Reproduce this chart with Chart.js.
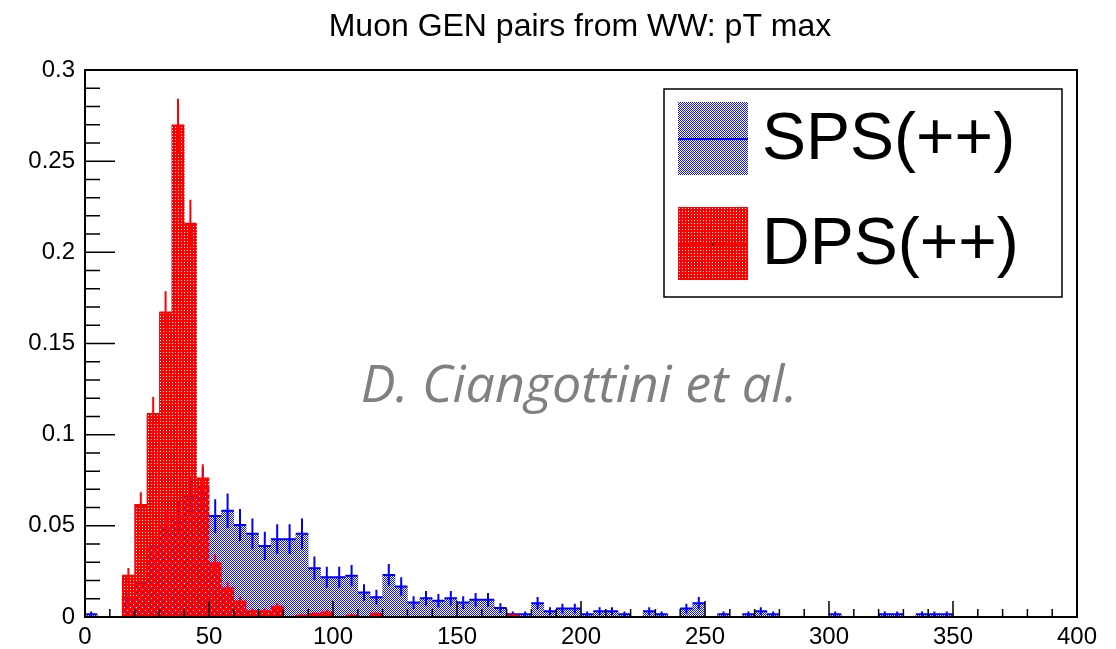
<!DOCTYPE html>
<html><head><meta charset="utf-8">
<script src="https://cdn.jsdelivr.net/npm/chart.js@4.4.1/dist/chart.umd.min.js"></script>
<style>html,body{margin:0;padding:0;background:#fff;}#wrap{width:1116px;height:649px;position:relative;}</style>
</head><body><div id="wrap"><canvas id="c" width="1116" height="649"></canvas></div>
<script>
// ---------------- data ----------------
const chartTitle = "Muon GEN pairs from WW: pT max";
const watermarkText = "D. Ciangottini et al.";
const binWidth = 5;
const binLow = [0,5,10,15,20,25,30,35,40,45,50,55,60,65,70,75,80,85,90,95,
  100,105,110,115,120,125,130,135,140,145,150,155,160,165,170,175,180,185,190,195,
  200,205,210,215,220,225,230,235,240,245,250,255,260,265,270,275,280,285,290,295,
  300,305,310,315,320,325,330,335,340,345,350,355,360,365,370,375,380,385,390,395];
const spsLabel = "SPS(++)";
const spsValues = [0.0015,0,0,0.0098,0.0186,0.0386,0.0505,0.054,0.066,0.0715,
  0.0554,0.0583,0.0505,0.0456,0.039,0.0427,0.0427,0.0456,0.0268,0.0218,
  0.0218,0.0226,0.0134,0.0109,0.0231,0.0167,0.0079,0.0103,0.0089,0.0103,
  0.0079,0.0094,0.0094,0.0049,0.0015,0.0015,0.0076,0.0031,0.0046,0.0046,
  0.0015,0.0031,0.0031,0.0015,0,0.0031,0.0015,0,0.0046,0.0076,
  0,0.0015,0,0.0015,0.0031,0.0015,0,0,0,0,
  0.0015,0,0,0,0.0015,0.0015,0,0.0015,0.0015,0.0015,
  0,0,0,0,0,0,0,0,0,0];
const spsErrors = [0.0015,0,0,0.0039,0.0054,0.0077,0.0088,0.0091,0.0101,0.0105,
  0.0092,0.0095,0.0088,0.0084,0.0078,0.0081,0.0081,0.0084,0.0064,0.0058,
  0.0058,0.0059,0.0045,0.0041,0.006,0.0051,0.0035,0.004,0.0037,0.004,
  0.0035,0.0038,0.0038,0.0027,0.0015,0.0015,0.0034,0.0022,0.0027,0.0027,
  0.0015,0.0022,0.0022,0.0015,0,0.0022,0.0015,0,0.0027,0.0034,
  0,0.0015,0,0.0015,0.0022,0.0015,0,0,0,0,
  0.0015,0,0,0,0.0015,0.0015,0,0.0015,0.0015,0.0015,
  0,0,0,0,0,0,0,0,0,0];
const dpsLabel = "DPS(++)";
const dpsValues = [0,0,0,0.0226,0.0614,0.1113,0.167,0.2695,0.2157,0.076,
  0.0295,0.0158,0.0085,0.0032,0.0032,0.0056,0,0.0008,0.0016,0.0024,
  0,0.0008,0,0.0016,0,0,0,0,0,0,
  0,0,0,0,0.0008,0,0,0,0,0,
  0,0,0,0,0,0,0,0,0,0,
  0,0,0,0,0,0,0,0,0,0,
  0,0,0,0,0,0,0,0,0,0,
  0,0,0,0,0,0,0,0,0,0];
const dpsErrors = [0,0,0,0.0043,0.007,0.0094,0.0116,0.0147,0.0131,0.0078,
  0.0049,0.0036,0.0026,0.0016,0.0016,0.0021,0,0.0008,0.0011,0.0014,
  0,0.0008,0,0.0011,0,0,0,0,0,0,
  0,0,0,0,0.0008,0,0,0,0,0,
  0,0,0,0,0,0,0,0,0,0,
  0,0,0,0,0,0,0,0,0,0,
  0,0,0,0,0,0,0,0,0,0,
  0,0,0,0,0,0,0,0,0,0];
const xTickLabels = ["0","50","100","150","200","250","300","350","400"];
const yTickLabels = ["0","0.05","0.1","0.15","0.2","0.25","0.3"];

// ---------------- styles ----------------
const FONT = "'Liberation Sans', Arial, Helvetica, sans-serif";
const canvas = document.getElementById('c');
const ctx0 = canvas.getContext('2d');
function makePattern(color, kind) {
  const p = document.createElement('canvas');
  const g = p.getContext('2d');
  if (kind === 'checker') {
    p.width = 2; p.height = 2;
    g.fillStyle = color;
    g.fillRect(0, 0, 1, 1); g.fillRect(1, 1, 1, 1);
  } else {
    p.width = 3; p.height = 3;
    g.fillStyle = color;
    g.fillRect(0, 0, 3, 3);
    g.clearRect(1, 1, 1, 1);
  }
  return ctx0.createPattern(p, 'repeat');
}
const blueFill = makePattern('#1010ff', 'checker');
const redFill = makePattern('#ff0000', 'dots');

const errorBars = {
  id: 'errorBars',
  afterDatasetDraw(chart, args) {
    const ds = chart.data.datasets[args.index];
    const errs = ds.errors;
    const xs = chart.scales.x, ys = chart.scales.y;
    const c = chart.ctx;
    c.save();
    c.strokeStyle = ds.lineColor;
    c.lineWidth = 2;
    ds.data.forEach((pt, i) => {
      if (!pt.y) return;
      const x0 = xs.getPixelForValue(pt.x - binWidth / 2);
      const x1 = xs.getPixelForValue(pt.x + binWidth / 2);
      const xc = xs.getPixelForValue(pt.x);
      const yv = ys.getPixelForValue(pt.y);
      const yl = ys.getPixelForValue(Math.max(0, pt.y - errs[i]));
      const yh = ys.getPixelForValue(pt.y + errs[i]);
      c.beginPath();
      c.moveTo(x0, yv); c.lineTo(x1, yv);
      c.moveTo(xc, yh); c.lineTo(xc, yl);
      c.stroke();
    });
    c.restore();
  }
};

const frameAndTicks = {
  id: 'frameAndTicks',
  afterDatasetsDraw(chart) {
    const c = chart.ctx;
    const a = chart.chartArea;
    const xs = chart.scales.x, ys = chart.scales.y;
    c.save();
    c.strokeStyle = '#000';
    c.lineWidth = 1.5;
    c.beginPath();
    for (let v = 0; v <= 400.001; v += 10) {
      const px = xs.getPixelForValue(v);
      const len = (Math.round(v) % 50 === 0) ? 16 : 8;
      c.moveTo(px, a.bottom); c.lineTo(px, a.bottom - len);
    }
    for (let k = 0; k <= 30; k++) {
      const py = ys.getPixelForValue(k / 100);
      const len = (k % 5 === 0) ? 30 : 15;
      c.moveTo(a.left, py); c.lineTo(a.left + len, py);
    }
    c.stroke();
    c.lineWidth = 2;
    c.strokeRect(a.left, a.top, a.right - a.left, a.bottom - a.top);
    c.restore();
  }
};

const overlayText = {
  id: 'overlayText',
  afterDraw(chart) {
    const c = chart.ctx;
    c.save();
    // title
    c.fillStyle = '#000';
    c.textAlign = 'center';
    c.textBaseline = 'alphabetic';
    c.font = '32px ' + FONT;
    c.fillText(chartTitle, 580, 36);
    // legend
    c.fillStyle = '#fff';
    c.fillRect(664, 89, 398, 208);
    c.strokeStyle = '#000';
    c.lineWidth = 1.5;
    c.strokeRect(664, 89, 398, 208);
    const items = [
      {ds: chart.data.datasets[0], y: 102},
      {ds: chart.data.datasets[1], y: 207}
    ];
    items.forEach(it => {
      c.fillStyle = it.ds.backgroundColor;
      c.fillRect(678, it.y, 70, 73);
      c.strokeStyle = it.ds.lineColor;
      c.lineWidth = 2;
      c.beginPath();
      c.moveTo(678, it.y + 37); c.lineTo(748, it.y + 37);
      c.stroke();
      c.fillStyle = '#000';
      c.fillRect(712, it.y + 36, 2, 2);
      c.font = '66px ' + FONT;
      c.textBaseline = 'alphabetic';
      c.textAlign = 'left';
      c.fillText(it.ds.label, 762, it.y + 57);
    });
    // watermark
    c.fillStyle = '#808080';
    c.textAlign = 'center';
    c.textBaseline = 'alphabetic';
    c.font = "italic 52px 'Open Sans', sans-serif";
    c.fillText(watermarkText, 579, 402);
    c.restore();
  }
};

new Chart(canvas, {
  type: 'bar',
  data: {
    datasets: [
      {
        label: spsLabel,
        data: spsValues.map((v, i) => ({x: binLow[i] + binWidth / 2, y: v})),
        errors: spsErrors,
        backgroundColor: blueFill,
        lineColor: '#0000ff',
        borderWidth: 0,
        grouped: false,
        barPercentage: 1,
        categoryPercentage: 1,
        order: 2
      },
      {
        label: dpsLabel,
        data: dpsValues.map((v, i) => ({x: binLow[i] + binWidth / 2, y: v})),
        errors: dpsErrors,
        backgroundColor: redFill,
        lineColor: '#ff0000',
        borderWidth: 0,
        grouped: false,
        barPercentage: 1,
        categoryPercentage: 1,
        order: 1
      }
    ]
  },
  options: {
    responsive: false,
    animation: false,
    devicePixelRatio: 1,
    layout: {padding: {left: 0, right: 39, top: 70, bottom: 0}},
    plugins: {
      legend: {display: false},
      tooltip: {enabled: false},
      title: {display: false}
    },
    scales: {
      x: {
        type: 'linear',
        min: 0, max: 400,
        offset: false,
        grid: {display: false, drawTicks: false},
        border: {display: false},
        ticks: {
          stepSize: 50,
          color: '#000',
          font: {family: FONT, size: 24},
          padding: 6,
          maxRotation: 0,
          callback: (v, i) => xTickLabels[i]
        },
        afterFit: s => { s.height = 32; }
      },
      y: {
        min: 0, max: 0.3,
        grid: {display: false, drawTicks: false},
        border: {display: false},
        ticks: {
          stepSize: 0.05,
          color: '#000',
          font: {family: FONT, size: 24},
          padding: 10,
          callback: (v, i) => yTickLabels[i]
        },
        afterFit: s => { s.width = 85; }
      }
    }
  },
  plugins: [errorBars, frameAndTicks, overlayText]
});
</script>
</body></html>
